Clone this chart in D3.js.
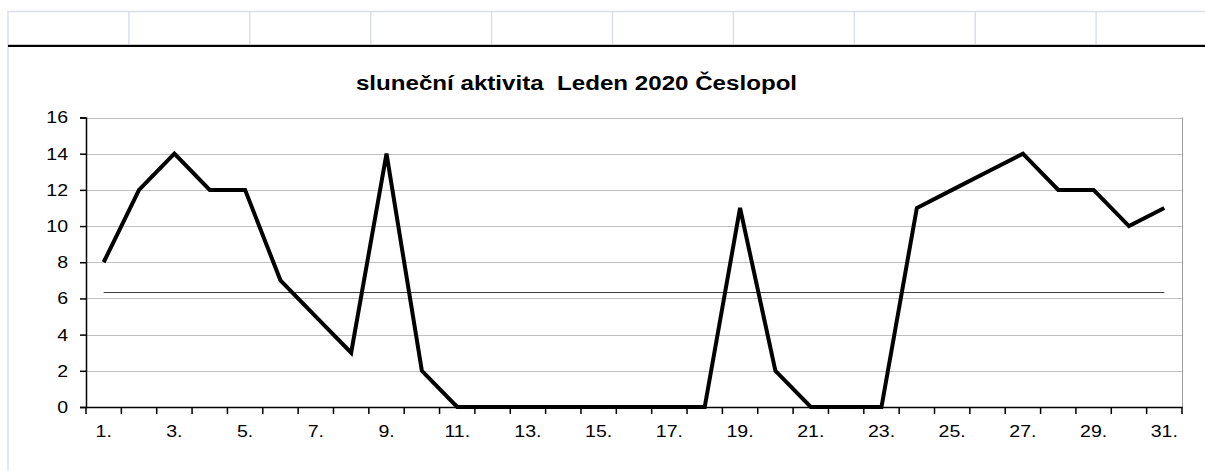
<!DOCTYPE html>
<html><head><meta charset="utf-8">
<script src="https://cdn.jsdelivr.net/npm/d3@7"></script>
<style>body{margin:0;background:#fff;}svg{display:block;font-family:"Liberation Sans",Arial,sans-serif;}</style>
</head><body>
<svg id="c" width="1205" height="471"></svg>
<script>
const days = d3.range(1, 32).map(d => d + ".");
const values = [8,12,14,12,12,7,5,3,14,2,0,0,0,0,0,0,0,0,11,2,0,0,0,11,12,13,14,12,12,10,11];
const yTicks = [0,2,4,6,8,10,12,14,16];
const title = "sluneční aktivita  Leden 2020 Česlopol";
const mean = d3.mean(values);
const SX = 1.15; // horizontal text stretch seen in the reference

const svg = d3.select("#c");
// spreadsheet background
const cellXs = d3.range(0, 10).map(i => 8 + i * 120.9);
svg.append("line").attr("x1", 8).attr("x2", 1205).attr("y1", 11.5).attr("y2", 11.5).attr("stroke", "#dadfea").attr("stroke-width", 1.5);
svg.selectAll(".cell").data(cellXs).join("line")
  .attr("x1", d => d).attr("x2", d => d).attr("y1", 11).attr("y2", 44)
  .attr("stroke", "#dadfea").attr("stroke-width", 1.5);
svg.append("line").attr("x1", 8).attr("x2", 8).attr("y1", 44).attr("y2", 471).attr("stroke", "#dadfea").attr("stroke-width", 1.5);
svg.append("line").attr("x1", 8).attr("x2", 1205).attr("y1", 44.5).attr("y2", 44.5).attr("stroke", "#c8c8c8").attr("stroke-width", 1);
svg.append("line").attr("x1", 8).attr("x2", 1205).attr("y1", 46).attr("y2", 46).attr("stroke", "#000").attr("stroke-width", 2);

const L = 86, R = 1182, T = 117.5, B = 407;
const x = d3.scaleBand().domain(days).range([L, R]).padding(0);
const y = d3.scaleLinear().domain([0, 16]).range([B, T]);

// gridlines
svg.append("g").selectAll("line").data(yTicks.slice(1)).join("line")
  .attr("x1", L).attr("x2", R).attr("y1", d => Math.round(y(d)) + 0.5).attr("y2", d => Math.round(y(d)) + 0.5)
  .attr("stroke", "#c0c0c0").attr("stroke-width", 1);
// right border
svg.append("line").attr("x1", R + 0.5).attr("x2", R + 0.5).attr("y1", T).attr("y2", B).attr("stroke", "#a0a0a0");

// average line
svg.append("line")
  .attr("x1", x(days[0]) + x.bandwidth() / 2).attr("x2", x(days[30]) + x.bandwidth() / 2)
  .attr("y1", Math.round(y(mean)) + 0.5).attr("y2", Math.round(y(mean)) + 0.5)
  .attr("stroke", "#404040").attr("stroke-width", 1);

// axes
const yAxis = d3.axisLeft(y).tickValues(yTicks).tickSize(6).tickPadding(0);
const gy = svg.append("g").attr("transform", `translate(${L},0)`).call(yAxis);
gy.select(".domain").attr("stroke", "#000").attr("stroke-width", 1.5);
gy.selectAll(".tick line").attr("stroke", "#000").attr("stroke-width", 1.5);
gy.selectAll("text").attr("font-size", 17).attr("fill", "#000").attr("font-family", "Liberation Sans, Arial, sans-serif")
  .attr("x", 0).attr("transform", `translate(-18,0) scale(${SX},1)`);

const xAxis = d3.axisBottom(x).tickSize(0).tickPadding(18)
  .tickFormat((d, i) => i % 2 === 0 ? d : "");
const gx = svg.append("g").attr("transform", `translate(0,${B})`).call(xAxis);
gx.select(".domain").attr("stroke", "#000").attr("stroke-width", 1.5);
gx.selectAll("text").attr("font-size", 17).attr("fill", "#000").attr("font-family", "Liberation Sans, Arial, sans-serif")
  .attr("transform", `scale(${SX},1)`);
// boundary tick marks
const bounds = days.map(d => x(d)).concat([R]);
gx.selectAll(".btick").data(bounds).join("line")
  .attr("x1", d => d).attr("x2", d => d).attr("y1", 0).attr("y2", 7)
  .attr("stroke", "#000").attr("stroke-width", 1.5);

// data line
const line = d3.line().x((d, i) => x(days[i]) + x.bandwidth() / 2).y(d => y(d));
svg.append("path").datum(values).attr("d", line)
  .attr("fill", "none").attr("stroke", "#000").attr("stroke-width", 4).attr("stroke-linejoin", "miter");

// title
svg.append("text").attr("transform", `translate(576.5,90) scale(${SX},1)`).attr("text-anchor", "middle")
  .attr("font-size", 21).attr("font-weight", "bold").attr("fill", "#000")
  .style("white-space", "pre").text(title);
</script>
</body></html>
